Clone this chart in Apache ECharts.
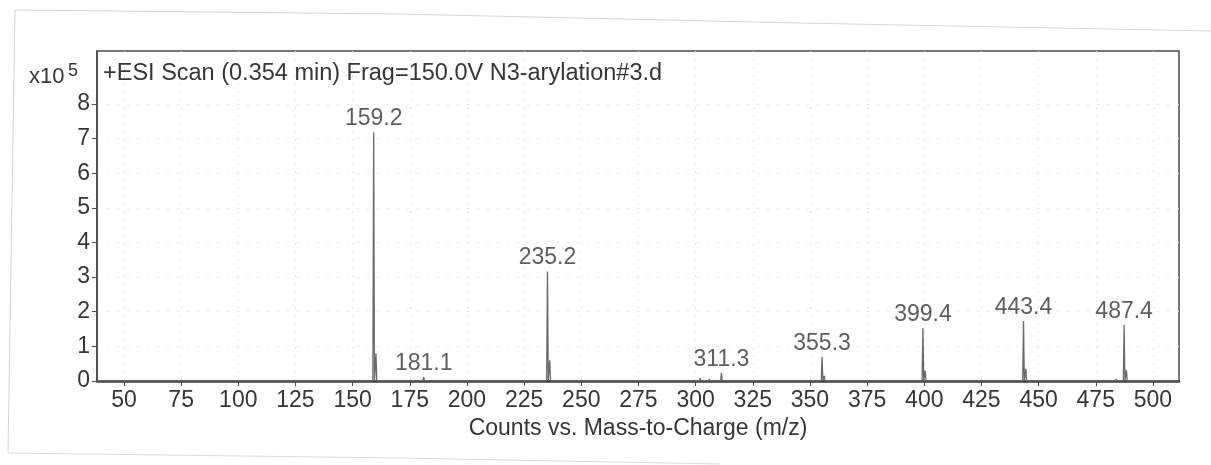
<!DOCTYPE html>
<html>
<head>
<meta charset="utf-8">
<title>+ESI Scan – N3-arylation#3.d</title>
<script src="https://cdn.jsdelivr.net/npm/echarts@6/dist/echarts.min.js"></script>
<style>
  html, body { margin: 0; padding: 0; background: #ffffff; }
  #chart { width: 1211px; height: 465px; }
</style>
</head>
<body>
<div id="chart"></div>
<script>
// Scan header and axis text
const scanTitle = '+ESI Scan (0.354 min) Frag=150.0V N3-arylation#3.d';
const xAxisTitle = 'Counts vs. Mass-to-Charge (m/z)';

// Tick labels
const mzTicks = [50, 75, 100, 125, 150, 175, 200, 225, 250, 275, 300, 325, 350, 375, 400, 425, 450, 475, 500];
const countTicks = [0, 1, 2, 3, 4, 5, 6, 7, 8]; // in units of 10^5 counts

// Centroided ions (m/z) and their abundance (counts)
const peakMz = [
  65.0, 132.0, 159.2, 160.2, 172.0, 181.1, 192.0,
  235.2, 236.2, 254.0, 275.0,
  302.0, 306.0, 311.3, 314.0, 329.0, 331.0, 334.0,
  351.0, 355.3, 356.3, 384.0, 396.0, 399.4, 400.4,
  410.0, 422.0, 428.0, 440.0, 443.4, 444.4,
  455.0, 468.0, 478.0, 484.0, 487.4, 488.4, 493.0, 496.0
];
const peakCounts = [
  3000, 5000, 718000, 80000, 4000, 11000, 3000,
  316000, 60000, 2000, 3000,
  8000, 6000, 24000, 5000, 5000, 4000, 4000,
  4000, 70000, 15000, 3000, 5000, 153000, 30000,
  3000, 4000, 3000, 4000, 173000, 35000,
  3000, 3000, 5000, 6000, 162000, 32000, 4000, 3000
];

// Annotated ions
const labelMz = [159.2, 181.1, 235.2, 311.3, 355.3, 399.4, 443.4, 487.4];
const labelCounts = [718000, 11000, 316000, 24000, 70000, 153000, 173000, 162000];

// Profile trace: each centroid drawn as a narrow peak rising from the baseline
const halfWidth = 0.35;
const profile = [[38.2, 0]];
peakMz.forEach((mz, i) => {
  profile.push([mz - halfWidth, 0], [mz, peakCounts[i]], [mz + halfWidth, 0]);
});
profile.push([511.4, 0]);

const textColor = '#363636';
const fontFamily = '"Liberation Sans", Arial, sans-serif';

const chart = echarts.init(document.getElementById('chart'), null, { renderer: 'canvas' });

chart.setOption({
  backgroundColor: '#ffffff',
  animation: false,
  grid: {
    left: 97, top: 51, right: 32, bottom: 84,
    show: true, borderColor: '#4a4a4a', borderWidth: 1.5, backgroundColor: 'transparent'
  },
  xAxis: {
    type: 'value',
    min: 38.2, max: 511.4,
    name: xAxisTitle,
    nameLocation: 'middle',
    nameGap: 29,
    nameTextStyle: { color: textColor, fontSize: 23, fontFamily: fontFamily },
    axisLine: { show: true, onZero: false, lineStyle: { color: '#3a3a3a', width: 2.5 } },
    axisTick: { show: true, length: 5, customValues: mzTicks, lineStyle: { color: '#4a4a4a', width: 1 } },
    axisLabel: { customValues: mzTicks, margin: 8, color: textColor, fontSize: 23, fontFamily: fontFamily },
    splitLine: { show: true, lineStyle: { color: '#e4e4e4', type: [2, 6], width: 1 } }
  },
  yAxis: {
    type: 'value',
    min: 0, max: 953000,
    axisLine: { show: true, lineStyle: { color: '#4a4a4a', width: 1.5 } },
    axisTick: { show: true, length: 5, customValues: countTicks.map(v => v * 1e5), lineStyle: { color: '#4a4a4a', width: 1 } },
    axisLabel: {
      customValues: countTicks.map(v => v * 1e5),
      margin: 7, color: textColor, fontSize: 23, fontFamily: fontFamily,
      formatter: v => String(Math.round(v / 1e5))
    },
    splitLine: { show: true, lineStyle: { color: '#e8e8e8', type: [2, 8], width: 1 } }
  },
  series: [
    {
      name: 'spectrum',
      type: 'line',
      data: profile,
      showSymbol: false,
      symbol: 'none',
      lineStyle: { color: '#6a6a6a', width: 1.3 },
      z: 3
    },
    {
      name: 'annotations',
      type: 'scatter',
      data: labelMz.map((mz, i) => [mz, labelCounts[i]]),
      symbolSize: 0,
      silent: true,
      label: {
        show: true,
        position: 'top',
        distance: 2,
        color: textColor,
        fontSize: 23,
        fontFamily: fontFamily,
        formatter: p => p.value[0].toFixed(1)
      },
      z: 4
    }
  ],
  graphic: [
    {
      type: 'text', left: 103, top: 62, z: 10,
      style: { text: scanTitle, fill: textColor, fontSize: 23.5, fontFamily: fontFamily }
    },
    {
      type: 'text', left: 29, top: 66, z: 10,
      style: { text: 'x10', fill: textColor, fontSize: 22, fontFamily: fontFamily }
    },
    {
      type: 'text', left: 68, top: 62, z: 10,
      style: { text: '5', fill: textColor, fontSize: 18, fontFamily: fontFamily }
    },
    // page edge lines
    {
      type: 'polyline', z: 0, silent: true,
      shape: { points: [[15, 10], [400, 14], [800, 23], [1211, 31]] },
      style: { stroke: '#d6d6d6', lineWidth: 1, fill: null }
    },
    {
      type: 'polyline', z: 0, silent: true,
      shape: { points: [[15, 10], [8, 453]] },
      style: { stroke: '#d6d6d6', lineWidth: 1, fill: null }
    },
    {
      type: 'polyline', z: 0, silent: true,
      shape: { points: [[8, 453], [400, 458], [720, 464]] },
      style: { stroke: '#dadada', lineWidth: 1, fill: null }
    }
  ]
});
</script>
</body>
</html>
